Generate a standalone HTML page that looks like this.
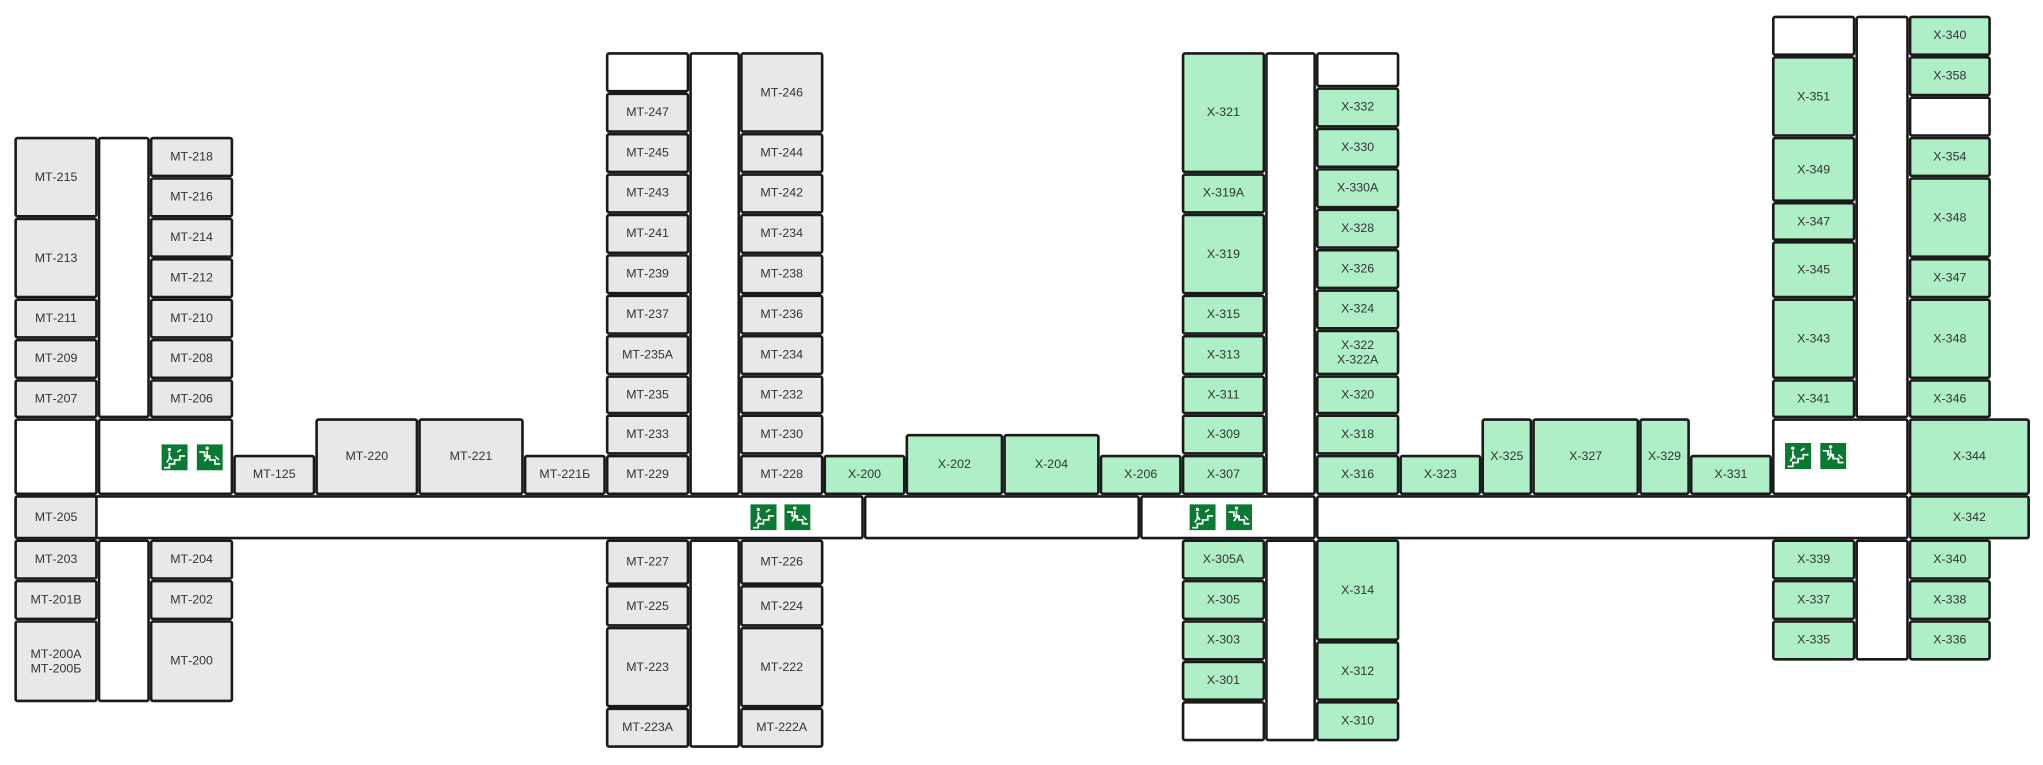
<!DOCTYPE html>
<html><head><meta charset="utf-8"><style>
html,body{margin:0;padding:0;background:#fff;width:2043px;height:764px;overflow:hidden}
#c{position:absolute;left:0;top:0;width:1568px;height:587px;transform:scale(1.30293);transform-origin:0 0}
.r{position:absolute;box-sizing:border-box;border:2px solid #1a1a1a;border-radius:2.5px;display:flex;align-items:center;justify-content:center;text-align:center;font-family:"Liberation Sans","DejaVu Sans",sans-serif;font-size:9.5px;line-height:11px;color:#333;background:#e8e8e8}
.g{background:#aeefc8}.w{background:#fff}
.e{position:absolute;width:20px;height:20px}
</style></head><body><div id="c">
<div class="r w" style="left:11px;top:380px;width:652px;height:34px"></div>
<div class="r w" style="left:663px;top:380px;width:212px;height:34px"></div>
<div class="r w" style="left:875px;top:380px;width:135px;height:34px"></div>
<div class="r w" style="left:1010px;top:380px;width:455px;height:34px"></div>
<div class="r w" style="left:75px;top:105px;width:40px;height:216px"></div>
<div class="r w" style="left:75px;top:414px;width:40px;height:125px"></div>
<div class="r w" style="left:529px;top:40px;width:39px;height:340px"></div>
<div class="r w" style="left:529px;top:414px;width:39px;height:160px"></div>
<div class="r w" style="left:971px;top:40px;width:39px;height:340px"></div>
<div class="r w" style="left:971px;top:414px;width:39px;height:155px"></div>
<div class="r w" style="left:1424px;top:12px;width:41px;height:309px"></div>
<div class="r w" style="left:1424px;top:414px;width:41px;height:93px"></div>
<div class="r" style="left:11px;top:105px;width:64px;height:62px">МТ-215</div>
<div class="r" style="left:11px;top:167px;width:64px;height:62px">МТ-213</div>
<div class="r" style="left:11px;top:229px;width:64px;height:31px">МТ-211</div>
<div class="r" style="left:11px;top:260px;width:64px;height:31px">МТ-209</div>
<div class="r" style="left:11px;top:291px;width:64px;height:30px">МТ-207</div>
<div class="r" style="left:115px;top:105px;width:64px;height:31px">МТ-218</div>
<div class="r" style="left:115px;top:136px;width:64px;height:31px">МТ-216</div>
<div class="r" style="left:115px;top:167px;width:64px;height:31px">МТ-214</div>
<div class="r" style="left:115px;top:198px;width:64px;height:31px">МТ-212</div>
<div class="r" style="left:115px;top:229px;width:64px;height:31px">МТ-210</div>
<div class="r" style="left:115px;top:260px;width:64px;height:31px">МТ-208</div>
<div class="r" style="left:115px;top:291px;width:64px;height:30px">МТ-206</div>
<div class="r w" style="left:11px;top:321px;width:64px;height:59px"></div>
<div class="r w" style="left:75px;top:321px;width:104px;height:59px"></div>
<div class="r" style="left:11px;top:380px;width:64px;height:34px">МТ-205</div>
<div class="r" style="left:11px;top:414px;width:64px;height:31px">МТ-203</div>
<div class="r" style="left:11px;top:445px;width:64px;height:31px">МТ-201В</div>
<div class="r" style="left:11px;top:476px;width:64px;height:63px">МТ-200А<br>МТ-200Б</div>
<div class="r" style="left:115px;top:414px;width:64px;height:31px">МТ-204</div>
<div class="r" style="left:115px;top:445px;width:64px;height:31px">МТ-202</div>
<div class="r" style="left:115px;top:476px;width:64px;height:63px">МТ-200</div>
<div class="r" style="left:179px;top:349px;width:63px;height:31px">МТ-125</div>
<div class="r" style="left:242px;top:321px;width:79px;height:59px">МТ-220</div>
<div class="r" style="left:321px;top:321px;width:81px;height:59px">МТ-221</div>
<div class="r" style="left:402px;top:349px;width:63px;height:31px">МТ-221Б</div>
<div class="r w" style="left:465px;top:40px;width:64px;height:31px"></div>
<div class="r" style="left:465px;top:71px;width:64px;height:31px">МТ-247</div>
<div class="r" style="left:465px;top:102px;width:64px;height:31px">МТ-245</div>
<div class="r" style="left:465px;top:133px;width:64px;height:31px">МТ-243</div>
<div class="r" style="left:465px;top:164px;width:64px;height:31px">МТ-241</div>
<div class="r" style="left:465px;top:195px;width:64px;height:31px">МТ-239</div>
<div class="r" style="left:465px;top:226px;width:64px;height:31px">МТ-237</div>
<div class="r" style="left:465px;top:257px;width:64px;height:31px">МТ-235А</div>
<div class="r" style="left:465px;top:288px;width:64px;height:30px">МТ-235</div>
<div class="r" style="left:465px;top:318px;width:64px;height:31px">МТ-233</div>
<div class="r" style="left:465px;top:349px;width:64px;height:31px">МТ-229</div>
<div class="r" style="left:568px;top:40px;width:64px;height:62px">МТ-246</div>
<div class="r" style="left:568px;top:102px;width:64px;height:31px">МТ-244</div>
<div class="r" style="left:568px;top:133px;width:64px;height:31px">МТ-242</div>
<div class="r" style="left:568px;top:164px;width:64px;height:31px">МТ-234</div>
<div class="r" style="left:568px;top:195px;width:64px;height:31px">МТ-238</div>
<div class="r" style="left:568px;top:226px;width:64px;height:31px">МТ-236</div>
<div class="r" style="left:568px;top:257px;width:64px;height:31px">МТ-234</div>
<div class="r" style="left:568px;top:288px;width:64px;height:30px">МТ-232</div>
<div class="r" style="left:568px;top:318px;width:64px;height:31px">МТ-230</div>
<div class="r" style="left:568px;top:349px;width:64px;height:31px">МТ-228</div>
<div class="r" style="left:465px;top:414px;width:64px;height:35px">МТ-227</div>
<div class="r" style="left:465px;top:449px;width:64px;height:32px">МТ-225</div>
<div class="r" style="left:465px;top:481px;width:64px;height:62px">МТ-223</div>
<div class="r" style="left:465px;top:543px;width:64px;height:31px">МТ-223А</div>
<div class="r" style="left:568px;top:414px;width:64px;height:35px">МТ-226</div>
<div class="r" style="left:568px;top:449px;width:64px;height:32px">МТ-224</div>
<div class="r" style="left:568px;top:481px;width:64px;height:62px">МТ-222</div>
<div class="r" style="left:568px;top:543px;width:64px;height:31px">МТ-222А</div>
<div class="r g" style="left:632px;top:349px;width:63px;height:31px">Х-200</div>
<div class="r g" style="left:695px;top:333px;width:75px;height:47px">Х-202</div>
<div class="r g" style="left:770px;top:333px;width:74px;height:47px">Х-204</div>
<div class="r g" style="left:844px;top:349px;width:63px;height:31px">Х-206</div>
<div class="r g" style="left:907px;top:40px;width:64px;height:93px">Х-321</div>
<div class="r g" style="left:907px;top:133px;width:64px;height:31px">Х-319А</div>
<div class="r g" style="left:907px;top:164px;width:64px;height:62px">Х-319</div>
<div class="r g" style="left:907px;top:226px;width:64px;height:31px">Х-315</div>
<div class="r g" style="left:907px;top:257px;width:64px;height:31px">Х-313</div>
<div class="r g" style="left:907px;top:288px;width:64px;height:30px">Х-311</div>
<div class="r g" style="left:907px;top:318px;width:64px;height:31px">Х-309</div>
<div class="r g" style="left:907px;top:349px;width:64px;height:31px">Х-307</div>
<div class="r w" style="left:1010px;top:40px;width:64px;height:27px"></div>
<div class="r g" style="left:1010px;top:67px;width:64px;height:31px">Х-332</div>
<div class="r g" style="left:1010px;top:98px;width:64px;height:31px">Х-330</div>
<div class="r g" style="left:1010px;top:129px;width:64px;height:31px">Х-330А</div>
<div class="r g" style="left:1010px;top:160px;width:64px;height:31px">Х-328</div>
<div class="r g" style="left:1010px;top:191px;width:64px;height:31px">Х-326</div>
<div class="r g" style="left:1010px;top:222px;width:64px;height:31px">Х-324</div>
<div class="r g" style="left:1010px;top:253px;width:64px;height:35px">Х-322<br>Х-322А</div>
<div class="r g" style="left:1010px;top:288px;width:64px;height:30px">Х-320</div>
<div class="r g" style="left:1010px;top:318px;width:64px;height:31px">Х-318</div>
<div class="r g" style="left:1010px;top:349px;width:64px;height:31px">Х-316</div>
<div class="r g" style="left:907px;top:414px;width:64px;height:31px">Х-305А</div>
<div class="r g" style="left:907px;top:445px;width:64px;height:31px">Х-305</div>
<div class="r g" style="left:907px;top:476px;width:64px;height:31px">Х-303</div>
<div class="r g" style="left:907px;top:507px;width:64px;height:31px">Х-301</div>
<div class="r w" style="left:907px;top:538px;width:64px;height:31px"></div>
<div class="r g" style="left:1010px;top:414px;width:64px;height:78px">Х-314</div>
<div class="r g" style="left:1010px;top:492px;width:64px;height:46px">Х-312</div>
<div class="r g" style="left:1010px;top:538px;width:64px;height:31px">Х-310</div>
<div class="r g" style="left:1074px;top:349px;width:63px;height:31px">Х-323</div>
<div class="r g" style="left:1137px;top:321px;width:39px;height:59px">Х-325</div>
<div class="r g" style="left:1176px;top:321px;width:82px;height:59px">Х-327</div>
<div class="r g" style="left:1258px;top:321px;width:39px;height:59px">Х-329</div>
<div class="r g" style="left:1297px;top:349px;width:63px;height:31px">Х-331</div>
<div class="r w" style="left:1360px;top:12px;width:64px;height:31px"></div>
<div class="r g" style="left:1360px;top:43px;width:64px;height:62px">Х-351</div>
<div class="r g" style="left:1360px;top:105px;width:64px;height:50px">Х-349</div>
<div class="r g" style="left:1360px;top:155px;width:64px;height:30px">Х-347</div>
<div class="r g" style="left:1360px;top:185px;width:64px;height:44px">Х-345</div>
<div class="r g" style="left:1360px;top:229px;width:64px;height:62px">Х-343</div>
<div class="r g" style="left:1360px;top:291px;width:64px;height:30px">Х-341</div>
<div class="r w" style="left:1360px;top:321px;width:105px;height:59px"></div>
<div class="r g" style="left:1465px;top:12px;width:63px;height:31px">Х-340</div>
<div class="r g" style="left:1465px;top:43px;width:63px;height:31px">Х-358</div>
<div class="r w" style="left:1465px;top:74px;width:63px;height:31px"></div>
<div class="r g" style="left:1465px;top:105px;width:63px;height:31px">Х-354</div>
<div class="r g" style="left:1465px;top:136px;width:63px;height:62px">Х-348</div>
<div class="r g" style="left:1465px;top:198px;width:63px;height:31px">Х-347</div>
<div class="r g" style="left:1465px;top:229px;width:63px;height:62px">Х-348</div>
<div class="r g" style="left:1465px;top:291px;width:63px;height:30px">Х-346</div>
<div class="r g" style="left:1465px;top:321px;width:93px;height:59px">Х-344</div>
<div class="r g" style="left:1465px;top:380px;width:93px;height:34px">Х-342</div>
<div class="r g" style="left:1360px;top:414px;width:64px;height:31px">Х-339</div>
<div class="r g" style="left:1360px;top:445px;width:64px;height:31px">Х-337</div>
<div class="r g" style="left:1360px;top:476px;width:64px;height:31px">Х-335</div>
<div class="r g" style="left:1465px;top:414px;width:63px;height:31px">Х-340</div>
<div class="r g" style="left:1465px;top:445px;width:63px;height:31px">Х-338</div>
<div class="r g" style="left:1465px;top:476px;width:63px;height:31px">Х-336</div>
<svg class="e" style="left:124px;top:341px" viewBox="0 0 20 20"><rect width="20" height="20" fill="#0a7a33"/><path d="M2 18h4v-3h4v-3h4v-3h4" stroke="#fff" fill="none" stroke-width="1.3"/><circle cx="6" cy="4" r="1.3" fill="#fff"/><path d="M6 6v5l-2 3M6 9l2 3" stroke="#fff" stroke-width="1.3" fill="none"/><path d="M12 6l3-2" stroke="#fff" stroke-width="1.2"/></svg>
<svg class="e" style="left:151px;top:341px" viewBox="0 0 20 20"><rect width="20" height="20" fill="#0a7a33"/><path d="M2 6h4v3h4v3h4v3h4" stroke="#fff" fill="none" stroke-width="1.3"/><circle cx="8" cy="3" r="1.3" fill="#fff"/><path d="M8 5v5l-2 3M8 8l2 3" stroke="#fff" stroke-width="1.3" fill="none"/><path d="M14 9l3 3" stroke="#fff" stroke-width="1.2"/></svg>
<svg class="e" style="left:576px;top:387px" viewBox="0 0 20 20"><rect width="20" height="20" fill="#0a7a33"/><path d="M2 18h4v-3h4v-3h4v-3h4" stroke="#fff" fill="none" stroke-width="1.3"/><circle cx="6" cy="4" r="1.3" fill="#fff"/><path d="M6 6v5l-2 3M6 9l2 3" stroke="#fff" stroke-width="1.3" fill="none"/><path d="M12 6l3-2" stroke="#fff" stroke-width="1.2"/></svg>
<svg class="e" style="left:602px;top:387px" viewBox="0 0 20 20"><rect width="20" height="20" fill="#0a7a33"/><path d="M2 6h4v3h4v3h4v3h4" stroke="#fff" fill="none" stroke-width="1.3"/><circle cx="8" cy="3" r="1.3" fill="#fff"/><path d="M8 5v5l-2 3M8 8l2 3" stroke="#fff" stroke-width="1.3" fill="none"/><path d="M14 9l3 3" stroke="#fff" stroke-width="1.2"/></svg>
<svg class="e" style="left:913px;top:387px" viewBox="0 0 20 20"><rect width="20" height="20" fill="#0a7a33"/><path d="M2 18h4v-3h4v-3h4v-3h4" stroke="#fff" fill="none" stroke-width="1.3"/><circle cx="6" cy="4" r="1.3" fill="#fff"/><path d="M6 6v5l-2 3M6 9l2 3" stroke="#fff" stroke-width="1.3" fill="none"/><path d="M12 6l3-2" stroke="#fff" stroke-width="1.2"/></svg>
<svg class="e" style="left:941px;top:387px" viewBox="0 0 20 20"><rect width="20" height="20" fill="#0a7a33"/><path d="M2 6h4v3h4v3h4v3h4" stroke="#fff" fill="none" stroke-width="1.3"/><circle cx="8" cy="3" r="1.3" fill="#fff"/><path d="M8 5v5l-2 3M8 8l2 3" stroke="#fff" stroke-width="1.3" fill="none"/><path d="M14 9l3 3" stroke="#fff" stroke-width="1.2"/></svg>
<svg class="e" style="left:1370px;top:340px" viewBox="0 0 20 20"><rect width="20" height="20" fill="#0a7a33"/><path d="M2 18h4v-3h4v-3h4v-3h4" stroke="#fff" fill="none" stroke-width="1.3"/><circle cx="6" cy="4" r="1.3" fill="#fff"/><path d="M6 6v5l-2 3M6 9l2 3" stroke="#fff" stroke-width="1.3" fill="none"/><path d="M12 6l3-2" stroke="#fff" stroke-width="1.2"/></svg>
<svg class="e" style="left:1397px;top:340px" viewBox="0 0 20 20"><rect width="20" height="20" fill="#0a7a33"/><path d="M2 6h4v3h4v3h4v3h4" stroke="#fff" fill="none" stroke-width="1.3"/><circle cx="8" cy="3" r="1.3" fill="#fff"/><path d="M8 5v5l-2 3M8 8l2 3" stroke="#fff" stroke-width="1.3" fill="none"/><path d="M14 9l3 3" stroke="#fff" stroke-width="1.2"/></svg>
</div></body></html>
